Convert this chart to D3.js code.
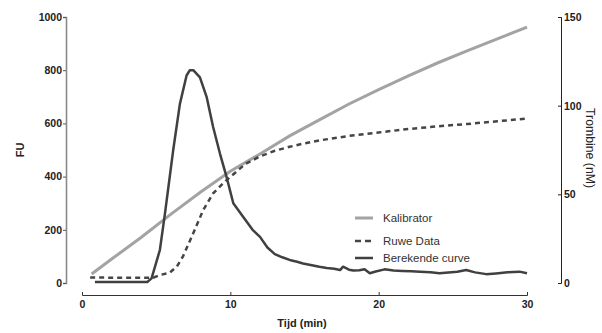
<!DOCTYPE html>
<html>
<head>
<meta charset="utf-8">
<script src="https://cdn.jsdelivr.net/npm/d3@7"></script>
<style>
    body { margin: 0; background: #fff; }
    svg { display: block; font-family: "Liberation Sans", Arial, sans-serif; }
    .tick text { font-size: 10.5px; font-weight: bold; fill: #222; font-family: "Liberation Sans", Arial, sans-serif; }
</style>
</head>
<body>
<svg width="602" height="333"></svg>
<script>
// Kalibrator (FU, left axis)
const kalibrator = [
    [0.65, 34], [2, 90], [4, 172], [6, 259], [8, 342], [10, 420], [12, 485],
    [14, 553], [16, 613], [18, 673], [20, 727], [22, 779], [24, 828],
    [26, 874], [28, 918], [30, 962]
];

// Ruwe Data (FU, left axis)
const ruweData = [
    [0.55, 21], [2, 20], [4.25, 20], [4.8, 20], [5.25, 30], [5.9, 38], [6.4, 62],
    [6.8, 99], [7.5, 187], [8.17, 274], [8.84, 337], [9.63, 381], [10.4, 418],
    [11, 447], [12, 476], [13, 497], [14, 512], [15, 525], [16, 536], [18, 553],
    [20, 566], [22, 579], [24, 589], [26, 598], [28, 608], [30, 618]
];

// Berekende curve (nM, right axis)
const berekend = [
    [0.87, 0.5], [3, 0.5], [4.4, 0.6], [4.69, 2.6], [5.25, 18.6], [5.59, 39],
    [6.15, 75], [6.6, 101], [7.05, 117], [7.27, 120], [7.5, 120], [7.95, 116],
    [8.4, 105], [8.84, 88], [9.3, 73], [9.74, 60], [10.2, 45], [10.86, 37.4],
    [11.5, 30], [12, 26], [12.5, 20], [13, 16.3], [13.5, 14.5], [14, 13],
    [14.5, 12], [14.9, 11], [15.5, 10], [16, 9.2], [16.5, 8.5], [17, 8.0],
    [17.4, 7.3], [17.6, 9.2], [18, 7.5], [18.3, 7], [18.7, 7.2], [19.05, 7.8],
    [19.4, 5.5], [19.8, 6.5], [20.4, 7.7], [21, 7.0], [21.6, 6.8], [22.2, 6.6],
    [22.8, 6.4], [23.5, 6.0], [24.1, 5.5], [24.7, 5.9], [25.3, 6.3], [25.9, 7.3],
    [26.5, 6.0], [27.25, 5.0], [27.9, 5.4], [28.7, 6.0], [29.5, 6.4], [30, 5.5]
];

const xTicks = [0, 10, 20, 30];
const fuTicks = [0, 200, 400, 600, 800, 1000];
const nmTicks = [0, 50, 100, 150];

const legendItems = [
    { label: "Kalibrator", color: "#a3a3a3", dash: null, width: 3 },
    { label: "Ruwe Data", color: "#454545", dash: "6,4", width: 2.5 },
    { label: "Berekende curve", color: "#404040", dash: null, width: 2.5 }
];

const svg = d3.select("svg");

const x = d3.scaleLinear().domain([0, 30]).range([82, 527]);
const yFU = d3.scaleLinear().domain([0, 1000]).range([283, 17]);
const yNM = d3.scaleLinear().domain([0, 150]).range([283, 17]);

// axes
const xAxis = svg.append("g")
    .attr("transform", "translate(0,295)")
    .call(d3.axisBottom(x).tickValues(xTicks).tickFormat(d3.format("d"))
        .tickSize(-3).tickSizeOuter(-3).tickPadding(6));
xAxis.select(".domain").attr("stroke", "#333");
xAxis.selectAll(".tick line").attr("stroke", "#333");

const leftAxis = svg.append("g")
    .attr("transform", "translate(66,0)")
    .call(d3.axisLeft(yFU).tickValues(fuTicks).tickFormat(d3.format("d"))
        .tickSize(3).tickSizeOuter(3).tickPadding(1));
leftAxis.select(".domain").attr("stroke", "#8a8a8a").attr("stroke-width", 1.6);
leftAxis.selectAll(".tick line").attr("stroke", "#555");

const rightAxis = svg.append("g")
    .attr("transform", "translate(561,0)")
    .call(d3.axisRight(yNM).tickValues(nmTicks).tickFormat(d3.format("d"))
        .tickSize(-3).tickSizeOuter(-3).tickPadding(3));
rightAxis.select(".domain").attr("stroke", "#222");
rightAxis.selectAll(".tick line").attr("stroke", "#222");

// axis titles
svg.append("text")
    .attr("transform", "translate(24,150) rotate(-90)")
    .attr("text-anchor", "middle")
    .style("font-size", "11px").style("font-weight", "bold").attr("fill", "#222")
    .text("FU");

svg.append("text")
    .attr("x", 302).attr("y", 327)
    .attr("text-anchor", "middle")
    .style("font-size", "11px").style("font-weight", "bold").attr("fill", "#222")
    .text("Tijd (min)");

svg.append("text")
    .attr("transform", "translate(586,148) rotate(90)")
    .attr("text-anchor", "middle")
    .attr("textLength", 80).attr("lengthAdjust", "spacingAndGlyphs")
    .style("font-size", "12px").attr("fill", "#222")
    .text("Trombine  (nM)");

// lines
const lineFU = d3.line().x(d => x(d[0])).y(d => yFU(d[1]));
const lineNM = d3.line().x(d => x(d[0])).y(d => yNM(d[1]));

svg.append("path")
    .datum(kalibrator)
    .attr("d", lineFU)
    .attr("fill", "none")
    .attr("stroke", legendItems[0].color)
    .attr("stroke-width", 3);

svg.append("path")
    .datum(ruweData)
    .attr("d", lineFU)
    .attr("fill", "none")
    .attr("stroke", legendItems[1].color)
    .attr("stroke-width", 2.5)
    .attr("stroke-dasharray", "5,4");

svg.append("path")
    .datum(berekend)
    .attr("d", lineNM)
    .attr("fill", "none")
    .attr("stroke", legendItems[2].color)
    .attr("stroke-width", 2.5)
    .attr("stroke-linejoin", "round");

// legend
const legendY = [218, 241, 258];
const legend = svg.append("g");
legendItems.forEach((item, i) => {
    legend.append("line")
        .attr("x1", 355).attr("x2", 373)
        .attr("y1", legendY[i]).attr("y2", legendY[i])
        .attr("stroke", item.color)
        .attr("stroke-width", item.width)
        .attr("stroke-dasharray", item.dash);
    legend.append("text")
        .attr("x", 383).attr("y", legendY[i])
        .attr("dy", "0.35em")
        .style("font-size", "11.5px").attr("fill", "#333")
        .text(item.label);
});
</script>
</body>
</html>
